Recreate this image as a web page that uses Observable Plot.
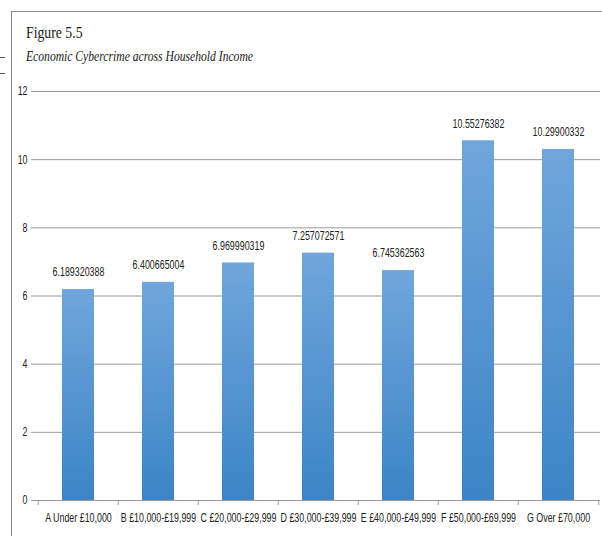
<!DOCTYPE html>
<html>
<head>
<meta charset="utf-8">
<script src="https://cdn.jsdelivr.net/npm/d3@7"></script>
<script src="https://cdn.jsdelivr.net/npm/@observablehq/plot@0.6"></script>
<style>
  html, body { margin: 0; padding: 0; background: #fff; }
  #wrap { position: relative; width: 602px; height: 536px; overflow: hidden; }
  #frame { position: absolute; left: 11px; top: 11px; width: 600px; height: 600px;
           border-top: 1px solid #8a8a8a; border-left: 1px solid #8a8a8a; }
  .mark { position: absolute; left: 0; width: 5px; height: 1px; background: #555; }
  #title { position: absolute; left: 26px; top: 24px; font: 16px "Liberation Serif", serif; color: #1a1a1a;
           transform: scaleX(0.86); transform-origin: left top; white-space: nowrap; }
  #subtitle { position: absolute; left: 26px; top: 49px; font: italic 14px "Liberation Serif", serif; color: #1a1a1a;
              transform: scaleX(0.83); transform-origin: left top; white-space: nowrap; }
  #chart { position: absolute; left: 0; top: 0; }
</style>
</head>
<body>
<div id="wrap">
  <div id="chart"></div>
  <div id="frame"></div>
  <div class="mark" style="top:57px"></div>
  <div class="mark" style="top:73px"></div>
  <div id="title">Figure 5.5</div>
  <div id="subtitle">Economic Cybercrime across Household Income</div>
</div>
<script>
const categories = ["A Under £10,000","B £10,000-£19,999","C £20,000-£29,999","D £30,000-£39,999","E £40,000-£49,999","F £50,000-£69,999","G Over £70,000"];
const values = [6.189320388, 6.400665004, 6.969990319, 7.257072571, 6.745362563, 10.55276382, 10.29900332];
const valueLabels = ["6.189320388","6.400665004","6.969990319","7.257072571","6.745362563","10.55276382","10.29900332"];
const yTicks = [0, 2, 4, 6, 8, 10, 12];

const data = categories.map((c, i) => ({cat: c, v: values[i], label: valueLabels[i]}));

const W = 602, H = 536, mL = 36, mR = 2;
const half = (W - mL - mR) / categories.length / 2;
const font = '"Liberation Sans", Arial, sans-serif';
const SX = 0.74;

const chart = Plot.plot({
  width: W,
  height: H,
  marginTop: 91,
  marginBottom: 36,
  marginLeft: mL,
  marginRight: mR,
  style: {fontFamily: font, fontSize: "12px", color: "#222", background: "transparent"},
  x: {domain: categories, paddingInner: 0.6, paddingOuter: 0.3, label: null},
  y: {domain: [0, 12], label: null},
  marks: [
    Plot.gridY(yTicks, {stroke: "#9a9a9a", strokeOpacity: 1}),
    Plot.ruleX([0], {frameAnchor: "left", stroke: "#b0b0b0"}),
    Plot.barY(data, {x: "cat", y: "v", fill: "url(#barGrad)"}),
    Plot.ruleY([0], {stroke: "#9a9a9a"}),
    Plot.ruleX(categories, {x: d => d, dx: -half, y1: 0, y2: 0, insetBottom: -5, stroke: "#9a9a9a"}),
    Plot.ruleX([categories[categories.length - 1]], {x: d => d, dx: half, y1: 0, y2: 0, insetBottom: -5, stroke: "#9a9a9a"}),
    Plot.text(data, {x: "cat", y: "v", text: "label", dy: -17, fill: "#222", fontSize: 12}),
    Plot.axisY(yTicks, {tickSize: 5, tickPadding: 4, stroke: "#9a9a9a", fill: "#222", fontSize: 12, label: null}),
    Plot.axisX({tickSize: 0, tickPadding: 13, fill: "#222", fontSize: 12, label: null})
  ]
});

const defs = document.createElementNS("http://www.w3.org/2000/svg", "defs");
defs.innerHTML = '<linearGradient id="barGrad" x1="0" y1="0" x2="0" y2="1">' +
  '<stop offset="0%" stop-color="#6fa6dc"/><stop offset="100%" stop-color="#3c84c6"/></linearGradient>';
chart.insertBefore(defs, chart.firstChild);
document.getElementById("chart").appendChild(chart);

// condense the Calibri-like narrow text horizontally (keep positions)
chart.querySelectorAll("text").forEach(t => {
  const x = t.getAttribute("x");
  if (x !== null && !isNaN(parseFloat(x)) && /^[-\d.]+$/.test(x.trim())) {
    t.setAttribute("x", parseFloat(x) / SX);
  }
  const tr = t.getAttribute("transform") || "";
  t.setAttribute("transform", (tr + ` scale(${SX},1)`).trim());
});
</script>
</body>
</html>
